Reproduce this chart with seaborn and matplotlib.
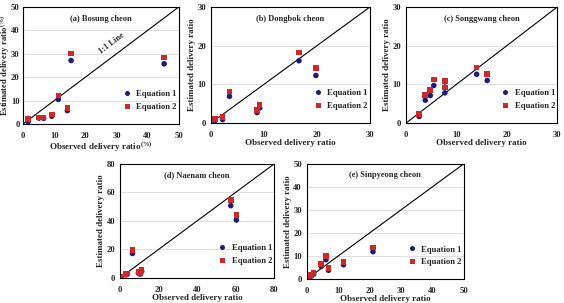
import numpy as np
import pandas as pd
import seaborn as sns
import matplotlib.pyplot as plt

# ------------------------------
# Data
# ------------------------------
bosung_obs = [1.6, 5.1, 6.6, 9.2, 11.3, 14.2, 15.4, 45.3]
bosung_eq1 = [1.0, 2.5, 2.4, 3.3, 10.5, 5.7, 27.1, 25.7]
bosung_eq2 = [2.2, 2.8, 2.8, 4.1, 12.1, 6.8, 30.1, 28.4]

dongbok_obs = [0.75, 2.2, 3.5, 8.7, 9.2, 16.6, 19.8]
dongbok_eq1 = [0.6, 0.9, 6.9, 2.7, 3.9, 16.1, 12.3]
dongbok_eq2 = [1.0, 1.5, 8.2, 3.4, 4.6, 18.2, 14.2]

songgwang_obs = [2.6, 3.8, 4.8, 5.5, 7.7, 7.7, 14.0, 16.1]
songgwang_eq1 = [1.7, 5.9, 7.1, 9.7, 9.3, 7.8, 12.6, 11.0]
songgwang_eq2 = [2.3, 7.2, 8.5, 11.3, 10.8, 9.2, 14.4, 12.7]

naenam_obs = [0.4, 2.9, 3.8, 6.4, 9.5, 10.3, 11.2, 57.5, 60.4]
naenam_eq1 = [0.5, 2.1, 2.6, 17.1, 3.4, 2.6, 4.4, 50.7, 40.6]
naenam_eq2 = [0.7, 2.6, 3.0, 19.5, 4.2, 3.4, 5.4, 54.7, 44.1]

sinpyeong_obs = [0.6, 1.3, 2.2, 4.6, 6.1, 6.9, 11.7, 21.1]
sinpyeong_eq1 = [0.6, 1.2, 2.2, 5.5, 8.4, 3.8, 6.2, 11.9]
sinpyeong_eq2 = [1.0, 1.8, 2.9, 6.5, 10.1, 4.8, 7.4, 13.8]

titles = ["(a) Bosung cheon", "(b) Dongbok cheon", "(c) Songgwang cheon",
          "(d) Naenam cheon", "(e) Sinpyeong cheon"]
limits = [50, 30, 30, 80, 50]
steps = [10, 10, 10, 20, 10]

panels = [
    (bosung_obs, bosung_eq1, bosung_eq2),
    (dongbok_obs, dongbok_eq1, dongbok_eq2),
    (songgwang_obs, songgwang_eq1, songgwang_eq2),
    (naenam_obs, naenam_eq1, naenam_eq2),
    (sinpyeong_obs, sinpyeong_eq1, sinpyeong_eq2),
]

# axes boxes in figure fractions [left, bottom, width, height]
boxes = [
    [0.041, 0.591, 0.276, 0.386],
    [0.374, 0.594, 0.282, 0.383],
    [0.720, 0.594, 0.268, 0.383],
    [0.213, 0.083, 0.273, 0.376],
    [0.544, 0.079, 0.278, 0.380],
]

# ------------------------------
# Style
# ------------------------------
sns.set_style("white")
plt.rcParams['font.family'] = ['Liberation Serif', 'DejaVu Serif']
plt.rcParams['font.weight'] = 'bold'
plt.rcParams['mathtext.fontset'] = 'custom'
plt.rcParams['mathtext.rm'] = 'Liberation Serif:bold'

palette = {"Equation 1": "#1c1c78", "Equation 2": "#cc2a2a"}
markers = {"Equation 1": "o", "Equation 2": "s"}

fig = plt.figure(figsize=(5.64, 3.03), dpi=100)

for i, (obs, eq1, eq2) in enumerate(panels):
    ax = fig.add_axes(boxes[i])
    df = pd.DataFrame({
        "obs": list(obs) + list(obs),
        "est": list(eq1) + list(eq2),
        "Equation": ["Equation 1"] * len(obs) + ["Equation 2"] * len(obs),
    })
    lim = limits[i]
    ticks = np.arange(0, lim + 1, steps[i])
    for t in ticks[1:-1]:
        ax.axhline(t, color="#d9d9d9", lw=0.6, zorder=0)
    ax.plot([0, lim], [0, lim], color="black", lw=0.8, zorder=1)
    sns.scatterplot(data=df, x="obs", y="est", hue="Equation", style="Equation",
                    palette=palette, markers=markers, s=16, linewidth=0,
                    ax=ax, zorder=2)
    ax.set_xlim(0, lim)
    ax.set_ylim(0, lim)
    ax.set_xticks(ticks)
    ax.set_yticks(ticks)
    for sp in ax.spines.values():
        sp.set_color("black")
        sp.set_linewidth(0.8)
    ax.tick_params(axis="both", labelsize=6.2, length=0)
    ax.tick_params(axis="x", pad=6)
    ax.tick_params(axis="y", pad=3.5)
    if i == 0:
        ax.tick_params(axis="y", pad=2.5)
        ax.set_xlabel(r"Observed delivery ratio$\mathregular{^{(\%)}}$", fontsize=6.5,
                      fontweight="bold", labelpad=0)
        ax.set_ylabel(r"Estimated delivery ratio$\mathregular{^{(\%)}}$", fontsize=6.2,
                      fontweight="bold")
        ax.yaxis.set_label_coords(-0.072, 0.5)
        ax.text(28.5, 34.5, "1:1 Line", rotation=37, fontsize=6,
                fontweight="bold", ha="center", va="center")
    else:
        ax.set_xlabel("Observed delivery ratio", fontsize=6.5,
                      fontweight="bold", labelpad=0)
        ax.set_ylabel("Estimated delivery ratio", fontsize=6.5,
                      fontweight="bold", labelpad=1)
    ax.text(0.5, 0.9, titles[i], transform=ax.transAxes, fontsize=6,
            fontweight="bold", ha="center", va="center")
    ax.legend(loc="lower right", bbox_to_anchor=(1.02, 0.07), frameon=False,
              fontsize=6.2, handletextpad=0.1, labelspacing=0.5,
              markerscale=0.9, borderaxespad=0.2)

fig.savefig("out.png", dpi=100)
